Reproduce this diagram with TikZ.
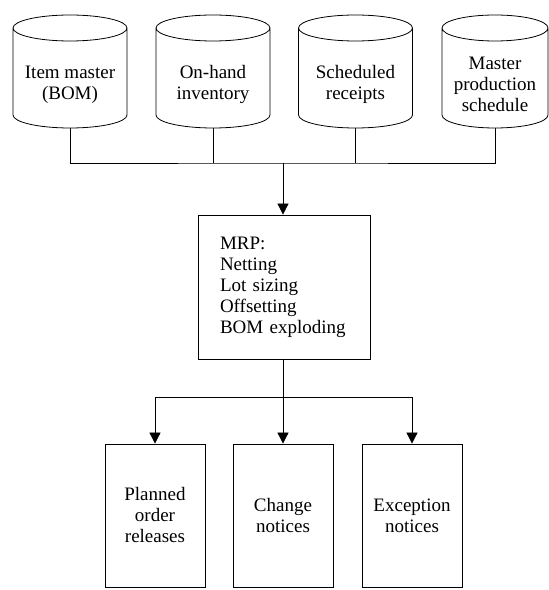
\documentclass[tikz,border=0pt]{standalone}
\usepackage{fontspec}
\setmainfont{Liberation Serif}
\usetikzlibrary{calc,arrows.meta}

\begin{document}
\begin{tikzpicture}[
  x=1pt, y=1pt, line width=0.8pt,
  every node/.style={font=\fontsize{19}{21}\selectfont},
  store/.style={minimum width=114pt, minimum height=87pt, inner sep=0pt,
    outer sep=0pt, align=center},
  proc/.style={draw, rectangle, text width=128pt, inner xsep=22pt,
    minimum height=144pt, align=left},
  report/.style={draw, rectangle, minimum width=100pt, minimum height=143pt,
    align=center, inner sep=0pt},
  arr/.style={-{Triangle[width=11pt,length=11pt]}}
]
\useasboundingbox (0,0) rectangle (549,590);

% data files
\node[store] (item) at (70,505.5) {Item master\\(BOM)};
\node[store] (onhand) at (213,505.5) {On-hand\\inventory};
\node[store] (sched) at (355.5,505.5) {Scheduled\\receipts};
\node[store, minimum width=106pt] (mps) at (495,505.5) {Master\\production\\schedule};

% cylinder outlines round the data files
\foreach \c in {item,onhand,sched,mps}
  \draw let \p1=(\c.north west), \p2=(\c.south east) in
    ([yshift=13pt]\c.north) ellipse [x radius={0.5*\x2-0.5*\x1}, y radius=13pt]
    ([yshift=13pt]\c.north west) -- ([yshift=13pt]\c.south west)
      arc [start angle=180, end angle=360, x radius={0.5*\x2-0.5*\x1}, y radius=13pt]
      -- ([yshift=13pt]\c.north east);

% MRP
\node[proc] (mrp) at (284,303) {MRP:\\Netting\\Lot sizing\\Offsetting\\BOM exploding};

% outputs
\node[report] (por) at (155,74.5) {Planned\\order\\releases};
\node[report] (chg) at (283,74.5) {Change\\notices};
\node[report] (exc) at (412,74.5) {Exception\\notices};

\coordinate (join) at (283,427);
\coordinate (split) at (283,193);

\draw (item.south) |- (join) -| (mps.south);
\draw (onhand.south) -- (onhand.south |- join);
\draw (sched.south) -- (sched.south |- join);
\draw[arr] (join) -- (join |- mrp.north);

\draw (split |- mrp.south) -- (split);
\draw[arr] (split) -| (por.north);
\draw[arr] (split) -- (chg.north);
\draw[arr] (split) -| (exc.north);
\end{tikzpicture}
\end{document}
